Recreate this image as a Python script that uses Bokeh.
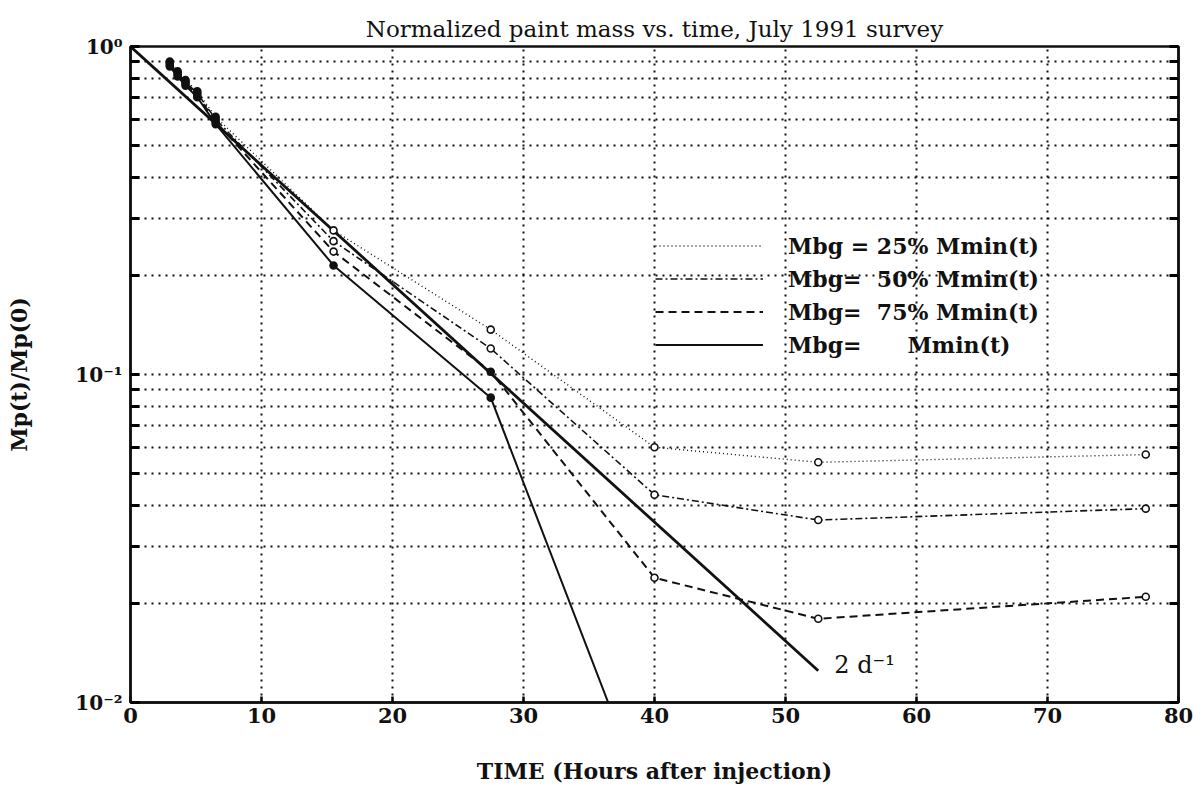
from bokeh.plotting import figure
from bokeh.models import (ColumnDataSource, LogAxis, Range1d, FixedTicker,
                          CustomJSTickFormatter, Legend, LegendItem, Label)
from bokeh.embed import file_html
from bokeh.resources import INLINE

# ---------------- data ----------------
TITLE = "Normalized paint mass vs. time, July 1991 survey"
X_LABEL = "TIME (Hours after injection)"
Y_LABEL = "Mp(t)/Mp(0)"

x_ticks = [0, 10, 20, 30, 40, 50, 60, 70, 80]
y_major_ticks = [0.01, 0.1, 1.0]
y_minor_ticks = [0.02, 0.03, 0.04, 0.05, 0.06, 0.07, 0.08, 0.09,
                 0.2, 0.3, 0.4, 0.5, 0.6, 0.7, 0.8, 0.9]

time_h = [3.0, 3.6, 4.2, 5.1, 6.5, 15.5, 27.5, 40.0, 52.5, 77.5]
mbg_25 = [0.90, 0.84, 0.79, 0.73, 0.61, 0.275, 0.137, 0.060, 0.054, 0.057]
mbg_50 = [0.89, 0.83, 0.78, 0.72, 0.60, 0.255, 0.120, 0.043, 0.036, 0.039]
mbg_75 = [0.88, 0.82, 0.77, 0.71, 0.59, 0.237, 0.102, 0.024, 0.018, 0.021]
mbg_100 = [0.87, 0.81, 0.76, 0.70, 0.58, 0.215, 0.085, 0.0043, float("nan"), float("nan")]

ref_time = [0.0, 52.5]
ref_value = [1.0, 0.0125]
ref_label = "2 d\u207b\u00b9"

legend_labels = ["Mbg = 25% Mmin(t)", "Mbg=  50% Mmin(t)", "Mbg=  75% Mmin(t)", "Mbg=      Mmin(t)"]

# ---------------- styling ----------------
SERIF = "DejaVu Serif"
INK = "#111111"

p = figure(width=1202, height=802, x_range=Range1d(0, 80), y_range=Range1d(0.01, 1.0),
           y_axis_type="log", output_backend="svg", toolbar_location=None,
           min_border_left=130, min_border_right=24, min_border_top=46, min_border_bottom=100,
           title=TITLE)

p.title.text_font = SERIF
p.title.text_font_size = "23px"
p.title.text_font_style = "normal"
p.title.align = "center"
p.title.text_color = INK
p.title.standoff = 9

p.outline_line_color = INK
p.outline_line_width = 2.5
p.background_fill_color = "white"
p.border_fill_color = "white"

# x axis
xa = p.xaxis[0]
xa.ticker = FixedTicker(ticks=x_ticks)
xa.axis_label = X_LABEL
xa.axis_label_text_font = SERIF
xa.axis_label_text_font_size = "22px"
xa.axis_label_text_font_style = "bold"
xa.axis_label_standoff = 32
xa.major_label_text_font = SERIF
xa.major_label_text_font_size = "21px"
xa.major_label_text_font_style = "bold"
xa.major_label_standoff = 5
xa.major_tick_in = 6
xa.major_tick_out = 0
xa.major_tick_line_width = 2.5
xa.minor_tick_line_color = None
xa.axis_line_width = 2.5
xa.axis_line_color = INK
xa.major_label_text_color = INK
xa.axis_label_text_color = INK

sup_js = """
const m = {'-':'\u207b','0':'\u2070','1':'\u00b9','2':'\u00b2','3':'\u00b3'};
const e = Math.round(Math.log10(tick));
let s = '';
for (const c of String(e)) { s += m[c]; }
return '10' + s;
"""

def y_ticker():
    return FixedTicker(ticks=y_major_ticks, minor_ticks=y_minor_ticks)

ya = p.yaxis[0]
ya.ticker = y_ticker()
ya.formatter = CustomJSTickFormatter(code=sup_js)
ya.axis_label = Y_LABEL
ya.axis_label_text_font = SERIF
ya.axis_label_text_font_size = "22px"
ya.axis_label_text_font_style = "bold"
ya.axis_label_standoff = 40
ya.major_label_text_font = SERIF
ya.major_label_text_font_size = "20px"
ya.major_label_text_font_style = "bold"
ya.major_label_standoff = 8
ya.major_tick_in = 9
ya.major_tick_out = 0
ya.minor_tick_in = 9
ya.minor_tick_out = 0
ya.major_tick_line_width = 3
ya.minor_tick_line_width = 3
ya.axis_line_width = 2.5
ya.axis_line_color = INK
ya.major_label_text_color = INK
ya.axis_label_text_color = INK

ra = LogAxis(ticker=y_ticker(), formatter=CustomJSTickFormatter(code="return '';"))
ra.major_tick_in = 9
ra.major_tick_out = 0
ra.minor_tick_in = 9
ra.minor_tick_out = 0
ra.major_tick_line_width = 3
ra.minor_tick_line_width = 3
ra.axis_line_width = 2.5
ra.axis_line_color = INK
ra.major_label_standoff = 0
p.add_layout(ra, "right")

# grids (dotted)
p.xgrid.ticker = FixedTicker(ticks=x_ticks[1:-1])
p.xgrid.grid_line_color = INK
p.xgrid.grid_line_dash = "2 5"
p.xgrid.grid_line_width = 2
p.ygrid.ticker = y_ticker()
p.ygrid.grid_line_color = INK
p.ygrid.grid_line_dash = "2 5"
p.ygrid.grid_line_width = 2
p.ygrid.minor_grid_line_color = INK
p.ygrid.minor_grid_line_dash = "2 5"
p.ygrid.minor_grid_line_width = 2

# reference decay line
p.line(ref_time, ref_value, line_color=INK, line_width=2.8)
lab = Label(x=ref_time[-1], y=ref_value[-1], text=ref_label, x_offset=16, y_offset=6,
            text_font=SERIF, text_font_size="24px", text_baseline="middle",
            text_color=INK)
p.add_layout(lab)

series = [
    (mbg_25, "1 3", 1.4, [True, True, True, True, True, False, False, False, False, False]),
    (mbg_50, "7 3 2 3", 1.6, [True, True, True, True, True, False, False, False, False, False]),
    (mbg_75, "8 5", 2.0, [True, True, True, True, True, False, True, False, False, False]),
    (mbg_100, "solid", 2.0, [True, True, True, True, True, True, True, True, True, True]),
]

items = []
for (vals, dash, lw, filled), label in zip(series, legend_labels):
    fills = ["#111111" if f else "white" for f in filled]
    src = ColumnDataSource(dict(t=time_h, v=vals, fill=fills))
    r = p.line("t", "v", source=src, line_color=INK, line_width=lw, line_dash=dash)
    p.scatter("t", "v", source=src, size=7, marker="circle", line_color=INK,
              line_width=1.6, fill_color="fill")
    items.append(LegendItem(label=label, renderers=[r]))

legend = Legend(items=items, location=(525, 341), glyph_width=108, glyph_height=33,
                label_height=33, label_standoff=25, spacing=0, padding=0, margin=0,
                border_line_alpha=0, background_fill_alpha=0,
                label_text_font=SERIF, label_text_font_size="22px",
                label_text_font_style="bold", label_text_color=INK)
p.add_layout(legend)

open("out.html", "w").write(file_html(p, INLINE))
